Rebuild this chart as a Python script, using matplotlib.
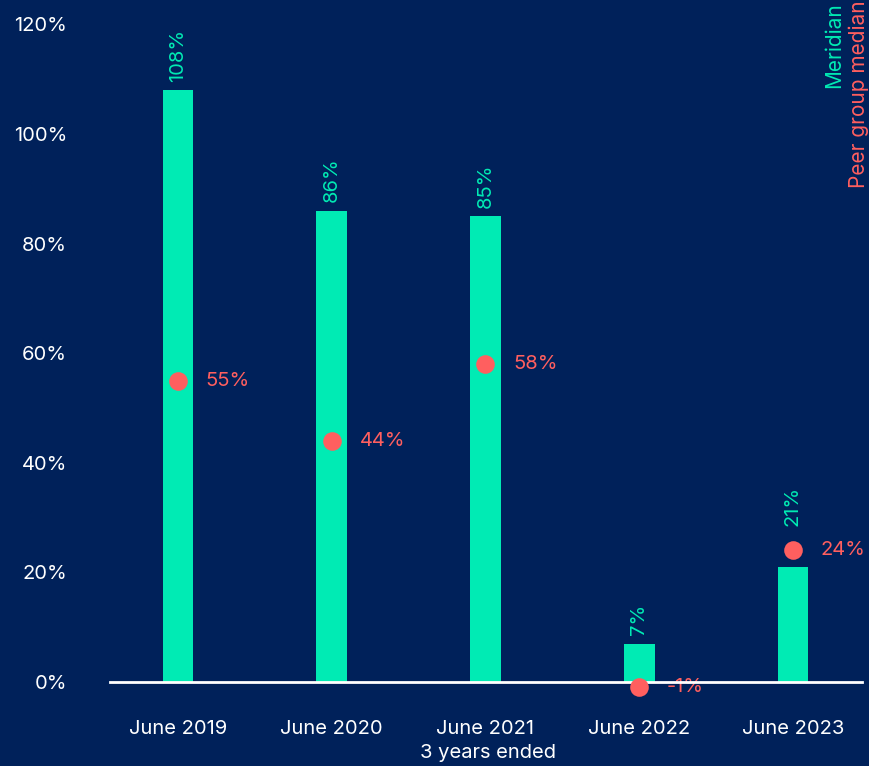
import matplotlib
matplotlib.use("Agg")
import matplotlib.pyplot as plt

categories = ["June 2019", "June 2020", "June 2021", "June 2022", "June 2023"]
meridian = [108, 86, 85, 7, 21]
peer = [55, 44, 58, -1, 24]
yticks = [0, 20, 40, 60, 80, 100, 120]

BG = "#00215A"
GREEN = "#00EBB4"
RED = "#FF5F5F"
plt.rcParams['font.family'] = ['Inter', 'DejaVu Sans']
FS = 14.5

fig = plt.figure(figsize=(8.7, 7.66), dpi=100, facecolor=BG)
ax = fig.add_axes([110/870, (766-682)/766, (862-110)/870, (682-2)/766])
ax.set_facecolor(BG)
x = list(range(len(categories)))
ax.bar(x, meridian, width=0.2, color=GREEN, zorder=2)
ax.scatter(x, peer, s=180, color=RED, zorder=5, linewidths=0, clip_on=False)
ax.axhline(0, color="white", lw=2, zorder=4, clip_on=False)

for xi, m, p in zip(x, meridian, peer):
    ytop = max(m, p + 3)
    ax.annotate(f"{m}%", (xi, ytop), xytext=(0, 6), textcoords="offset points",
                rotation=90, ha="center", va="bottom", color=GREEN, fontsize=FS,
                annotation_clip=False)
    ax.annotate(f"{p}%", (xi, p), xytext=(20, 0), textcoords="offset points",
                ha="left", va="center", color=RED, fontsize=FS, annotation_clip=False)

ax.set_xlim(-0.442, 4.449)
ax.set_ylim(0, 124.1)
ax.set_yticks(yticks)
ax.set_yticklabels([f"{t}%" for t in yticks])
ax.set_xticks(x)
ax.set_xticklabels(categories)
ax.tick_params(axis="both", length=0, colors="white", labelsize=FS)
ax.tick_params(axis="y", pad=31)
ax.tick_params(axis="x", pad=27)
for s in ax.spines.values():
    s.set_visible(False)
ax.set_xlabel("3 years ended", color="white", fontsize=FS, labelpad=0)
ax.xaxis.set_label_coords((488-110)/(862-110), -62/680)

fig.text(834/870, 0.997, "Meridian", rotation=90, ha="center", va="top", color=GREEN, fontsize=15)
fig.text(859/870, 1.0, "Peer group median", rotation=90, ha="center", va="top", color=RED, fontsize=15)

fig.savefig("out.png", dpi=100, facecolor=BG)
